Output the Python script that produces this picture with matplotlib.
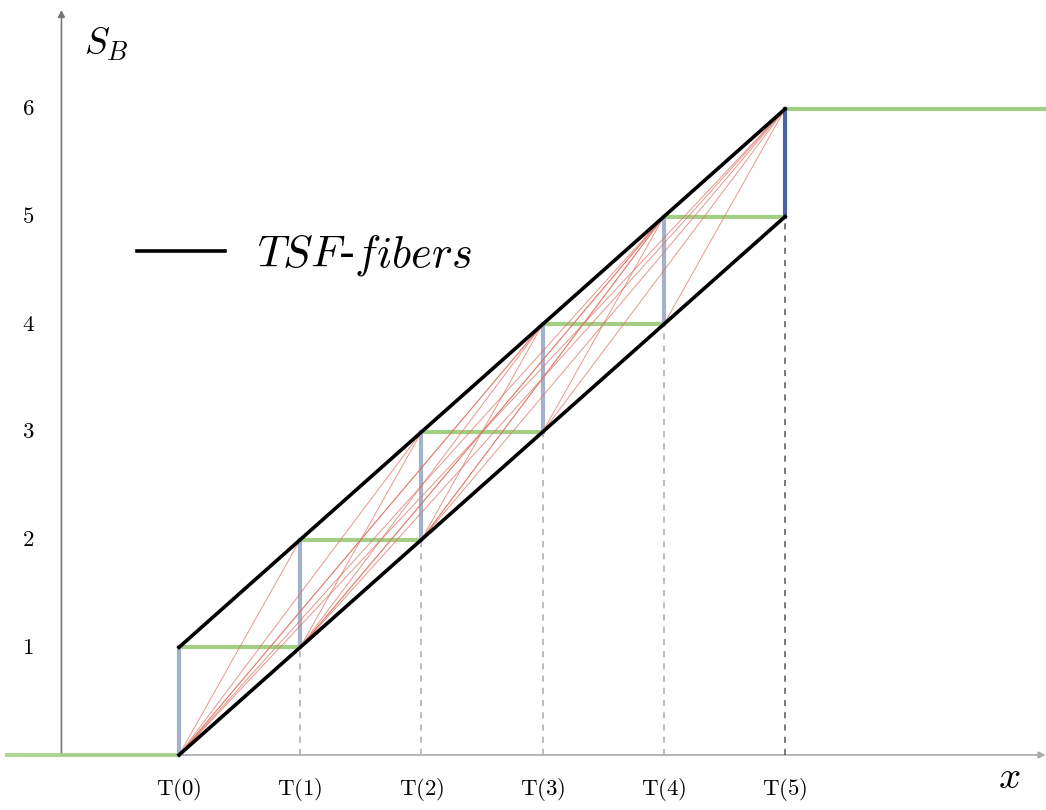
import matplotlib
matplotlib.use("Agg")
import matplotlib.pyplot as plt
from matplotlib.lines import Line2D

plt.rcParams["mathtext.fontset"] = "cm"

# data
steps = [0, 1, 2, 3, 4, 5]                      # T(k) positions on x
step_labels = ["T(0)", "T(1)", "T(2)", "T(3)", "T(4)", "T(5)"]
lower = [0, 1, 2, 3, 4, 5]                      # lower fiber boundary at T(k)
upper = [1, 2, 3, 4, 5, 6]                      # upper fiber boundary at T(k)
y_ticks = [1, 2, 3, 4, 5, 6]
left_level = 0
right_level = 6
x_left, x_axis0, x_right = -1.42, -0.97, 7.15
y_top = 6.92

# fibers: lower corner index -> upper corner index
fiber_from = [0, 0, 0, 0, 0, 1, 1, 1, 1, 2, 2, 2, 3, 3, 4, 0, 1, 2]
fiber_to   = [1, 2, 3, 4, 5, 2, 3, 4, 5, 3, 4, 5, 4, 5, 5, 3, 4, 4]

green = "#a3cf85"
blue = "#a2b1cc"
dark_blue = "#4a64a3"
red = "#dd7563"

fig = plt.figure(figsize=(10.46, 8.10), dpi=100)
ax = fig.add_axes([0, 0, 1, 1])
ax.set_xlim(-1.477, 7.153)
ax.set_ylim(-0.511, 7.012)
ax.axis("off")

# axes with arrows
ax.annotate("", xy=(x_right, 0), xytext=(x_axis0, 0),
            arrowprops=dict(arrowstyle="-|>", color="#aaaaaa", lw=1.2,
                            mutation_scale=10, shrinkA=0, shrinkB=0), zorder=1)
ax.annotate("", xy=(x_axis0, y_top), xytext=(x_axis0, 0),
            arrowprops=dict(arrowstyle="-|>", color="#777777", lw=1.2,
                            mutation_scale=10, shrinkA=0, shrinkB=0), zorder=1)

# dashed drops
for k in steps[1:]:
    c = "#555555" if k == steps[-1] else "#aaaaaa"
    ax.plot([k, k], [0, lower[k]], ls=(0, (4, 4)), color=c, lw=1.1, zorder=2)

# fibers
for i, j in zip(fiber_from, fiber_to):
    ax.plot([steps[i], steps[j]], [lower[i], upper[j]], color=red, lw=0.7,
            alpha=0.75, zorder=3)

# horizontal green plateaus
ax.plot([x_left, steps[0]], [left_level, left_level], color=green, lw=3, alpha=0.85, zorder=2)
for k in steps[:-1]:
    ax.plot([steps[k], steps[k + 1]], [upper[k], lower[k + 1]], color=green, lw=3, zorder=2)
ax.plot([steps[-1], x_right], [right_level, right_level], color=green, lw=3, zorder=2)

# vertical blue jumps
for k in steps:
    c = dark_blue if k == steps[-1] else blue
    ax.plot([k, k], [lower[k], upper[k]], color=c, lw=3, zorder=2)

# boundary lines
ax.plot(steps, lower, color="black", lw=2.6, zorder=4)
ax.plot(steps, upper, color="black", lw=2.6, zorder=4)

# tick labels
for v in y_ticks:
    ax.text(-1.245, v, rf"$\mathrm{{{v}}}$", fontsize=16.5, ha="center", va="center")
for k, lab in zip(steps, step_labels):
    ax.text(k, -0.32, rf"$\mathrm{{{lab}}}$", fontsize=16.5, ha="center", va="center")

ax.text(-0.78, 6.6, r"$S_B$", fontsize=27, ha="left", va="center")
ax.text(6.85, -0.2, r"$x$", fontsize=28, ha="center", va="center")

handle = Line2D([], [], color="black", lw=2.6)
ax.legend([handle], [r"$TSF$-$fibers$"], loc="center left",
          bbox_to_anchor=(0.093, 0.685), frameon=False,
          handlelength=1.98, handletextpad=0.72, prop={"size": 32})

fig.savefig("out.png", dpi=100)
